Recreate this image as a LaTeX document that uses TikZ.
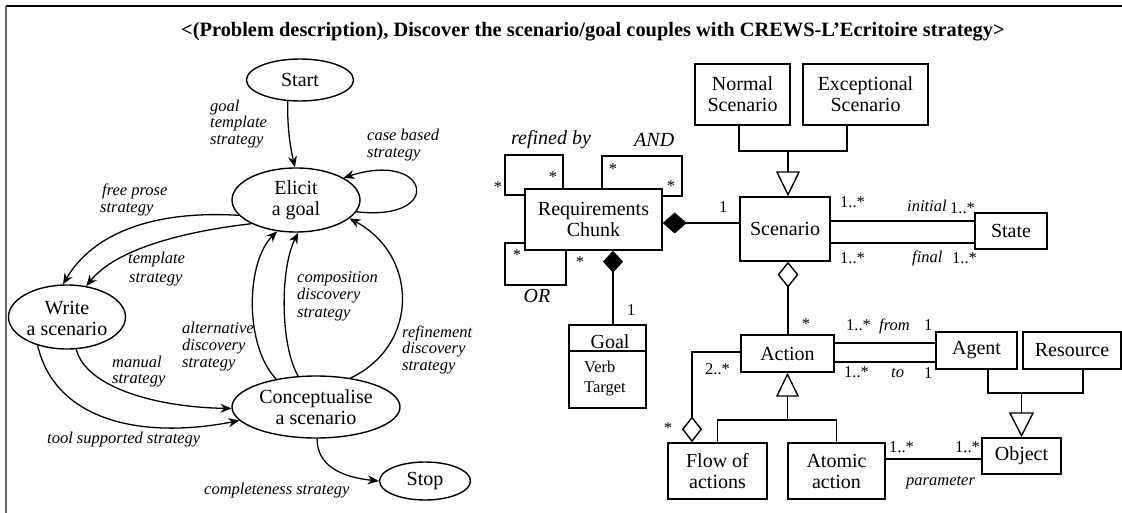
\documentclass[tikz,border=0pt]{standalone}
\usepackage{fontspec}
\setmainfont{Liberation Serif}
\usetikzlibrary{arrows.meta,shapes.geometric}
\newcounter{lb}
\newcommand\myN{\fontsize{20}{21}\selectfont}
\newcommand\myL{\fontsize{16.5}{17}\selectfont}
\newcommand\lab[4][lbl]{\stepcounter{lb}\node[#1] (lab-\the\value{lb}) at (#2,#3) {#4};}
\begin{document}
\begin{tikzpicture}[x=1pt,y=-1pt,
  ell/.style={draw, ellipse, line width=1.4pt, inner sep=0pt},
  txt/.style={font=\myN, align=center, inner sep=0pt},
  box/.style={draw, rectangle, line width=1.4pt, inner sep=0pt, font=\myN, align=center},
  lbl/.style={font=\myL\itshape, anchor=base west, inner sep=0pt},
  num/.style={font=\myL, anchor=base west, inner sep=0pt},
  star/.style={font=\myL, anchor=base, inner sep=0pt},
  rl/.style={font=\myN\itshape, anchor=base west, inner sep=0pt},
  arr/.style={line width=1.3pt, -{Stealth[length=11pt,width=9pt]}},
  uml/.style={line width=1.4pt}]
\useasboundingbox (0,0) rectangle (1122,513);
% frame
\draw[line width=1.6pt] (6,6) -- (1122,6);
\draw[line width=2pt, black!60] (6,6) -- (6,513);
\node[font=\fontsize{20.4}{22}\selectfont\bfseries, anchor=base west, inner sep=0pt] (title) at (181,37)
  {<(Problem description), Discover the scenario/goal couples with CREWS-L’Ecritoire strategy>};

% ---------- left: map ----------
\node[ell, minimum width=107, minimum height=42] (start) at (300,80) {};
\node[txt] (startT) at (start) {Start};
\node[ell, minimum width=128, minimum height=64] (elicit) at (296,200) {};
\node[txt] (elicitT) at (elicit) {Elicit\\a goal};
\node[ell, minimum width=117, minimum height=64] (write) at (67,317) {};
\node[txt] (writeT) at ([yshift=-1pt]write.center) {Write\\a scenario};
\node[ell, minimum width=168, minimum height=62] (concept) at (316,407) {};
\node[txt] (conceptT) at (concept) {Conceptualise\\a scenario};
\node[ell, minimum width=91, minimum height=38] (stop) at (425,481) {};
\node[txt] (stopT) at (stop) {Stop};

\draw[arr] (start.240) .. controls (287,130) and (291,150) .. (elicit.92);
\draw[arr] (elicit.-11) .. controls (445,222) and (430,150) .. (elicit.25);
\draw[arr] (elicit.195) .. controls (150,210) and (92,235) .. (write.97);
\draw[arr] (elicit.208) .. controls (180,232) and (115,250) .. (write.58);
\draw[arr] (write.-74) .. controls (85,385) and (150,407) .. (concept.181);
\draw[arr] (write.224) .. controls (55,420) and (140,440) .. (concept.190);
\draw[arr] (concept.145) .. controls (244,345) and (246,262) .. (elicit.239);
\draw[arr] (concept.120) .. controls (280,345) and (280,268) .. (elicit.274);
\draw[arr] (concept.40) .. controls (420,345) and (418,255) .. (elicit.-19);
\draw[arr] (concept.272) .. controls (317,465) and (340,477) .. (stop.west);

\lab{210}{112}{goal}
\lab{210}{128}{template}
\lab{210}{145}{strategy}
\lab{367}{141}{case based}
\lab{367}{158}{strategy}
\lab{102}{196}{free prose}
\lab{100}{213}{strategy}
\lab{128}{264}{template}
\lab{129}{282}{strategy}
\lab{182}{333}{alternative}
\lab{182}{350}{discovery}
\lab{182}{367}{strategy}
\lab{297}{282}{composition}
\lab{297}{299}{discovery}
\lab{297}{317}{strategy}
\lab{402}{337}{refinement}
\lab{402}{353}{discovery}
\lab{402}{370}{strategy}
\lab{112}{367}{manual}
\lab{112}{383}{strategy}
\lab{47}{443}{tool supported strategy}
\lab{204}{494}{completeness strategy}

% ---------- right: product model ----------
\node[box, minimum width=95, minimum height=61] (normal) at (742.5,94.5) {Normal\\Scenario};
\node[box, minimum width=125, minimum height=61] (except) at (865.5,94.5) {Exceptional\\Scenario};
\node[box, minimum width=90, minimum height=64] (scenario) at (785,229) {Scenario};
\node[box, minimum width=72, minimum height=36] (state) at (1011,231) {State};
\node[box, minimum width=137, minimum height=61] (rc) at (593.5,219.5) {Requirements\\Chunk};
\node[box, minimum width=77, minimum height=83] (goal) at (607.5,366.5) {};
\node[box, minimum width=93, minimum height=37] (action) at (787.5,353.5) {Action};
\node[box, minimum width=81, minimum height=37] (agent) at (976.5,350.5) {Agent};
\node[box, minimum width=98, minimum height=37] (resource) at (1072,350.5) {Resource};
\node[box, minimum width=79, minimum height=36] (object) at (1021.5,456) {Object};
\node[box, minimum width=99, minimum height=56] (flow) at (717.5,471) {Flow of\\actions};
\node[box, minimum width=97, minimum height=56] (atomic) at (836.5,471) {Atomic\\action};

\draw[uml] (goal.west |- 0,351) -- (goal.east |- 0,351);
\node[font=\myN, anchor=base, inner sep=0pt] (goalT) at (610,348) {Goal};
\lab[num]{584}{372}{Verb}
\lab[num]{584}{392}{Target}

% generalisation scenario
\draw[uml] (normal.south -| 739,0) |- (847,151) -- (except.south -| 847,0);
\coordinate (g1) at (788,151);
\draw[uml, -{Triangle[open, length=25pt, width=24pt]}] (g1) -- (scenario.north -| g1);
% scenario-state
\draw[uml] (scenario.east |- 0,221) -- (state.west |- 0,221);
\draw[uml] (scenario.east |- 0,243) -- (state.west |- 0,243);
% rc-scenario, rc-goal
\draw[uml, {Diamond[length=24pt, width=21pt]}-] (rc.east |- 0,223) -- (scenario.west |- 0,223);
\draw[uml, {Diamond[length=22pt, width=20pt]}-] (rc.south -| 613,0) -- (goal.north -| 613,0);
% rc self loops
\draw[uml] (rc.north -| 563,0) |- (505,155) |- (rc.west |- 0,195);
\draw[uml] (rc.north -| 602,0) |- (682,156) |- (rc.east |- 0,196);
\draw[uml] (rc.west |- 0,243) -| (505,285) -| (rc.south -| 566,0);
% scenario-action
\draw[uml, {Diamond[open, length=26pt, width=21pt]}-] (scenario.south -| 788,0) -- (action.north -| 788,0);
% action-agent
\draw[uml] (action.east |- 0,343) -- (agent.west |- 0,343);
\draw[uml] (action.east |- 0,362) -- (agent.west |- 0,362);
% flow aggregation
\draw[uml, {Diamond[open, length=26pt, width=20pt]}-] (flow.north -| 692,0) |- (action.west |- 0,352);
% action generalisation
\draw[uml] (flow.north) |- (atomic.north |- 0,420) -- (atomic.north);
\draw[uml, -{Triangle[open, length=24pt, width=23pt]}] (action.south |- 0,420) -- (action.south);
% object generalisation
\draw[uml] (agent.south -| 988,0) |- (1083,393) -- (resource.south -| 1083,0);
\draw[uml, -{Triangle[open, length=25pt, width=25pt]}] (object.north |- 0,393) -- (object.north);
% atomic-object
\draw[uml] (atomic.east |- 0,459) -- (object.west |- 0,459);

% labels right
\lab[rl]{511}{145}{refined by}
\lab[rl]{634}{147}{AND}
\node[font=\myN\itshape, anchor=base, inner sep=0pt] (orT) at (537,302) {OR};
\lab[star]{553}{183}{*}
\lab[star]{498}{193}{*}
\lab[star]{613}{175}{*}
\lab[star]{671}{192}{*}
\lab[star]{517}{261}{*}
\lab[star]{580}{267}{*}
\lab[num]{719}{213}{1}
\lab[num]{627}{315}{1}
\lab[num]{840}{208}{1..*}
\lab{907}{212}{initial}
\lab[num]{950}{214}{1..*}
\lab[num]{840}{263}{1..*}
\lab{912}{262}{final}
\lab[num]{952}{263}{1..*}
\lab[star]{806}{329}{*}
\lab[num]{846}{330}{1..*}
\lab{879}{330}{from}
\lab[num]{924}{330}{1}
\lab[num]{844}{377}{1..*}
\lab{891}{377}{to}
\lab[num]{924}{378}{1}
\lab[num]{705}{374}{2..*}
\lab[star]{668}{433}{*}
\lab[num]{889}{452}{1..*}
\lab[num]{955}{452}{1..*}
\lab{906}{485}{parameter}
\end{tikzpicture}
\end{document}
